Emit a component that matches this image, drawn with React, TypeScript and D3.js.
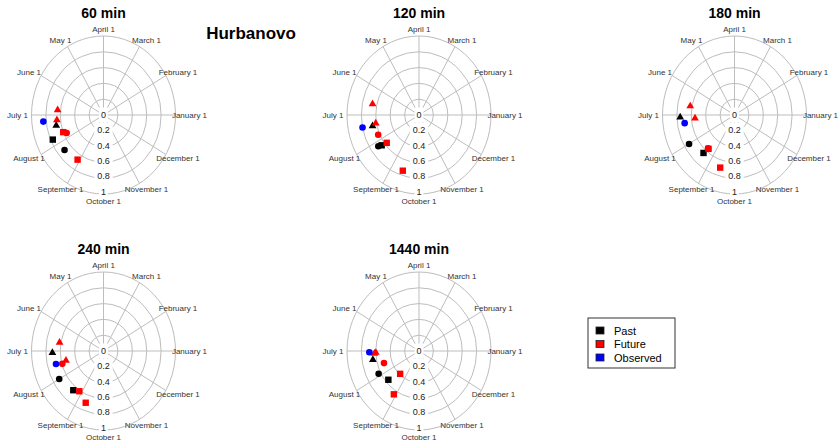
import React, { useEffect, useRef } from "react";
import * as d3 from "d3";

const W = 839;
const H = 444;

const panelTitles = ["60 min", "120 min", "180 min", "240 min", "1440 min"];
const mainTitle = "Hurbanovo";
const monthLabels = [
  "January 1", "February 1", "March 1", "April 1", "May 1", "June 1",
  "July 1", "August 1", "September 1", "October 1", "November 1", "December 1",
];
const radialTicks = [0, 0.2, 0.4, 0.6, 0.8, 1];
const gridRings = [0.2, 0.4, 0.6, 0.8, 1];

// [day of year, magnitude] for each panel (60, 120, 180, 240, 1440 min)
const pastTriangle = [[194.2, 0.67], [194.8, 0.66], [184.7, 0.755], [184.2, 0.71], [192.5, 0.65]];
const pastCircle = [[222.4, 0.7], [218.0, 0.69], [213.1, 0.73], [212.9, 0.71], [210.0, 0.63]];
const pastSquare = [[206.7, 0.77], [219.5, 0.645], [231.3, 0.645], [233.0, 0.65], [223.6, 0.56]];
const futureTriangleA = [[176.8, 0.64], [170.2, 0.66], [172.0, 0.625], [172.3, 0.62], [184.5, 0.6]];
const futureTriangleB = [[188.1, 0.65], [192.5, 0.61], [186.9, 0.55], [195.8, 0.535], [185.5, 0.62]];
const futureCircle = [[206.9, 0.56], [206.7, 0.62], [232.2, 0.56], [198.6, 0.595], [200.2, 0.51]];
const futureSquareA = [[204.0, 0.6], [221.2, 0.57], [233.1, 0.56], [239.9, 0.61], [231.0, 0.39]];
const futureSquareB = [[240.8, 0.67], [255.8, 0.74], [256.9, 0.695], [252.8, 0.7], [240.8, 0.65]];
const observedCircle = [[188.3, 0.84], [194.1, 0.8], [191.1, 0.7], [196.7, 0.68], [183.9, 0.69]];

const legendLabels = ["Past", "Future", "Observed"];
const legendColors = ["#000000", "#ff0000", "#0000ff"];

const series = [
  { values: pastTriangle, shape: "triangle", color: legendColors[0] },
  { values: pastCircle, shape: "circle", color: legendColors[0] },
  { values: pastSquare, shape: "square", color: legendColors[0] },
  { values: futureCircle, shape: "circle", color: legendColors[1] },
  { values: futureTriangleA, shape: "triangle", color: legendColors[1] },
  { values: futureTriangleB, shape: "triangle", color: legendColors[1] },
  { values: futureSquareA, shape: "square", color: legendColors[1] },
  { values: futureSquareB, shape: "square", color: legendColors[1] },
  { values: observedCircle, shape: "circle", color: legendColors[2] },
];

export default function App() {
  const svgRef = useRef<SVGSVGElement>(null);

  useEffect(() => {
    const svg = d3.select(svgRef.current);
    svg.selectAll("*").remove();
    const font = "Liberation Sans, Arial, sans-serif";

    const dayToAngle = d3.scaleLinear().domain([0, 365]).range([0, 2 * Math.PI]);
    const rx = d3.scaleLinear().domain([0, 1]).range([0, 72]);
    const ry = d3.scaleLinear().domain([0, 1]).range([0, 79]);
    const labelR = 86;

    panelTitles.forEach((title, i) => {
      const cx = 103.5 + (i % 3) * 315.5;
      const cy = 115 + Math.floor(i / 3) * 236;
      const g = svg.append("g").attr("transform", `translate(${cx},${cy})`);

      g.append("text")
        .attr("x", 0)
        .attr("y", -97)
        .attr("text-anchor", "middle")
        .attr("font-family", font)
        .attr("font-weight", "bold")
        .attr("font-size", 14)
        .text(title);

      gridRings.forEach((r) => {
        g.append("ellipse")
          .attr("rx", rx(r))
          .attr("ry", ry(r))
          .attr("fill", "none")
          .attr("stroke", "#bdbdbd")
          .attr("stroke-width", 1);
      });

      monthLabels.forEach((m, k) => {
        const a = (k * Math.PI) / 6;
        g.append("line")
          .attr("x1", 0)
          .attr("y1", 0)
          .attr("x2", rx(1) * Math.cos(a))
          .attr("y2", -ry(1) * Math.sin(a))
          .attr("stroke", "#bdbdbd")
          .attr("stroke-width", 1);
        g.append("text")
          .attr("x", labelR * Math.cos(a))
          .attr("y", -labelR * Math.sin(a))
          .attr("dy", "0.35em")
          .attr("text-anchor", "middle")
          .attr("font-family", font)
          .attr("font-size", 8)
          .attr("fill", "#333")
          .text(m);
      });

      radialTicks.forEach((t) => {
        const y = ry(t) * 0.97;
        const label = String(t);
        const w = label.length * 4.8 + 4;
        g.append("rect")
          .attr("x", -w / 2)
          .attr("y", y - 7.5)
          .attr("width", w)
          .attr("height", 15)
          .attr("fill", "white");
        g.append("text")
          .attr("x", 0)
          .attr("y", y)
          .attr("dy", "0.35em")
          .attr("text-anchor", "middle")
          .attr("font-family", font)
          .attr("font-size", 9)
          .attr("fill", "#222")
          .text(label);
      });

      series.forEach((s) => {
        const [day, mag] = s.values[i];
        const a = dayToAngle(day);
        const x = rx(mag) * Math.cos(a);
        const y = -ry(mag) * Math.sin(a);
        if (s.shape === "circle") {
          g.append("circle").attr("cx", x).attr("cy", y).attr("r", 3.3).attr("fill", s.color);
        } else if (s.shape === "square") {
          g.append("rect")
            .attr("x", x - 3.2)
            .attr("y", y - 3.2)
            .attr("width", 6.4)
            .attr("height", 6.4)
            .attr("fill", s.color);
        } else {
          g.append("path")
            .attr("transform", `translate(${x},${y})`)
            .attr("d", d3.symbol().type(d3.symbolTriangle).size(26)())
            .attr("fill", s.color);
        }
      });
    });

    svg.append("text")
      .attr("x", 251)
      .attr("y", 39)
      .attr("text-anchor", "middle")
      .attr("font-family", font)
      .attr("font-weight", "bold")
      .attr("font-size", 17)
      .text(mainTitle);

    const legend = svg.append("g").attr("transform", "translate(588,318)");
    legend.append("rect")
      .attr("width", 87)
      .attr("height", 50)
      .attr("fill", "white")
      .attr("stroke", "#333")
      .attr("stroke-width", 1);
    legendLabels.forEach((lab, k) => {
      const y = 13 + k * 13.5;
      legend.append("rect")
        .attr("x", 8)
        .attr("y", y - 4)
        .attr("width", 8)
        .attr("height", 7)
        .attr("fill", legendColors[k])
        .attr("stroke", "#222")
        .attr("stroke-width", 0.8);
      legend.append("text")
        .attr("x", 26)
        .attr("y", y)
        .attr("dy", "0.35em")
        .attr("font-family", font)
        .attr("font-size", 11)
        .text(lab);
    });
  }, []);

  return (
    <div style={{ position: "absolute", left: 0, top: 0 }}>
      <svg ref={svgRef} width={W} height={H} style={{ display: "block", background: "white" }} />
    </div>
  );
}
